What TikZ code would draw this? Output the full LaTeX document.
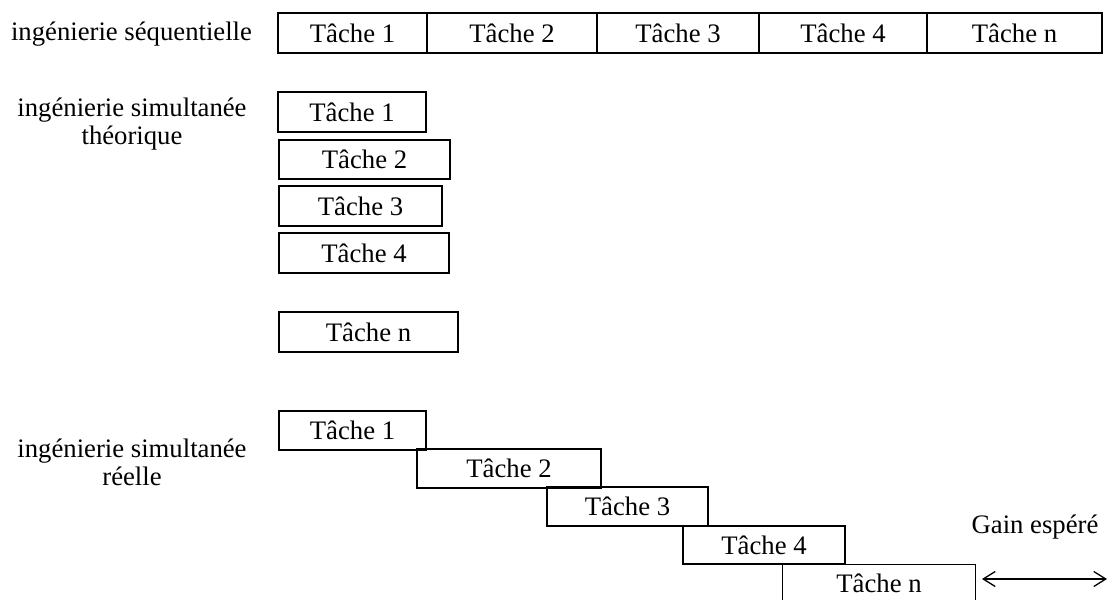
\documentclass[tikz,border=0pt]{standalone}
\usepackage{fontspec}
\setmainfont{Liberation Serif}
\usetikzlibrary{arrows.meta}
\newcommand{\tachefont}{\fontsize{26.7}{28}\selectfont}
\tikzset{
  boxline/.style={line width=1.3pt},
  taskbox/.style={draw, boxline, inner sep=0pt, font=\tachefont},
  lab/.style={inner sep=0pt, align=center, font=\tachefont},
  gainarrow/.style={line width=1.3pt, {Straight Barb[length=12pt,width=15pt]}-{Straight Barb[length=12pt,width=15pt]}}
}
\begin{document}
\begin{tikzpicture}[x=1pt,y=-1pt]
\useasboundingbox (0,0) rectangle (1109,600);
\clip (0,0) rectangle (1109,600);
% labels
\node[lab] (l1) at (131.5,34) {ingénierie séquentielle};
\node[lab] (l2) at (132,124) {ingénierie simultanée\\théorique};
\node[lab] (l3) at (132,462) {ingénierie simultanée\\réelle};
% sequential row
\node[taskbox, minimum width=149pt, minimum height=40pt] (s1) at (352.5,33) {Tâche 1};
\node[taskbox, minimum width=170pt, minimum height=40pt] (s2) at (512,33) {Tâche 2};
\node[taskbox, minimum width=162pt, minimum height=40pt] (s3) at (678,33) {Tâche 3};
\node[taskbox, minimum width=168pt, minimum height=40pt] (s4) at (843,33) {Tâche 4};
\node[taskbox, minimum width=175pt, minimum height=40pt] (sn) at (1014.5,33) {Tâche n};
% theoretical simultaneous
\node[taskbox, minimum width=148pt, minimum height=40pt] (t1) at (352,112) {Tâche 1};
\node[taskbox, minimum width=171pt, minimum height=39pt] (t2) at (364.5,159.5) {Tâche 2};
\node[taskbox, minimum width=163pt, minimum height=40pt] (t3) at (360.5,206) {Tâche 3};
\node[taskbox, minimum width=170pt, minimum height=40pt] (t4) at (364,253) {Tâche 4};
\node[taskbox, minimum width=179pt, minimum height=40pt] (tn) at (368.5,332) {Tâche n};
% real simultaneous
\node[taskbox, minimum width=147pt, minimum height=39pt] (r1) at (352.5,430.5) {Tâche 1};
\node[taskbox, minimum width=184pt, minimum height=39pt] (r2) at (509,468.5) {Tâche 2};
\node[taskbox, minimum width=161pt, minimum height=39pt] (r3) at (627.5,506.5) {Tâche 3};
\node[taskbox, minimum width=162pt, minimum height=38pt] (r4) at (764,545) {Tâche 4};
\node[lab, minimum width=192pt, minimum height=36pt] (rn) at (879,583) {Tâche n};
\draw[boxline] ([yshift=-6pt]rn.south west) -- (rn.north west) -- (rn.north east) -- ([yshift=-6pt]rn.south east);
% gain
\node[lab] (gain) at (1035,527) {Gain espéré};
\coordinate (gL) at (982,579);
\coordinate (gR) at (1107,579);
\draw[gainarrow] (gL) -- (gR);
\end{tikzpicture}
\end{document}
